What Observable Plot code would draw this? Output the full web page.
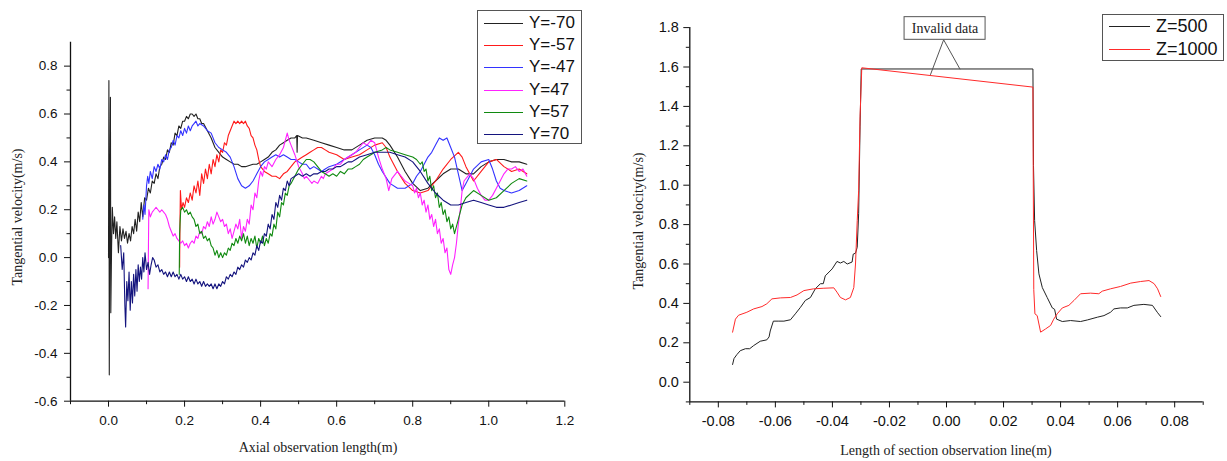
<!DOCTYPE html>
<html>
<head>
<meta charset="utf-8">
<script src="https://cdn.jsdelivr.net/npm/d3@7"></script>
<script src="https://cdn.jsdelivr.net/npm/@observablehq/plot@0.6"></script>
<style>
  html, body { margin: 0; padding: 0; background: #fff; }
  #wrap { position: relative; width: 1227px; height: 461px; overflow: hidden; background: #fff; }
  .panel { position: absolute; top: 0; }
  .title { position: absolute; font-family: "Liberation Serif", "Times New Roman", serif; font-size: 14px; color: #222; white-space: nowrap; }
  .legend { position: absolute; border: 1px solid #555; background: #fff; box-sizing: border-box; }
  .legend .row { position: absolute; left: 0; display: flex; align-items: center; font-family: "Liberation Sans", Arial, sans-serif; color: #111; white-space: nowrap; }
</style>
</head>
<body>
<div id="wrap"></div>
<script>
// ---------- LEFT PANEL DATA ----------
const leftSeriesNames = ["Y=-70", "Y=-57", "Y=-47", "Y=47", "Y=57", "Y=70"];
const leftSeriesColors = ["#222222", "#ff1a1a", "#3333ff", "#ff22ff", "#108a10", "#14147e"];
const leftXTicks = [0.0, 0.2, 0.4, 0.6, 0.8, 1.0, 1.2];
const leftXMinor = [-0.1, 0.1, 0.3, 0.5, 0.7, 0.9, 1.1];
const leftYTicks = [-0.6, -0.4, -0.2, 0.0, 0.2, 0.4, 0.6, 0.8];
const leftYMinor = [-0.5, -0.3, -0.1, 0.1, 0.3, 0.5, 0.7];

const yNeg70 = [[0.000,0.00],[0.001,0.74],[0.002,-0.49],[0.003,0.08],[0.005,0.67],[0.006,-0.23],[0.008,0.04],[0.010,0.21],[0.013,0.10],[0.016,0.17],[0.019,0.08],[0.022,0.15],[0.026,0.02],[0.030,0.13],[0.034,0.07],[0.038,0.12],[0.042,0.08],[0.046,0.11],[0.050,0.06],[0.054,0.10],[0.058,0.07],[0.062,0.13],[0.066,0.10],[0.070,0.16],[0.074,0.11],[0.078,0.19],[0.082,0.15],[0.086,0.23],[0.090,0.17],[0.095,0.25],[0.100,0.24],[0.105,0.29],[0.110,0.27],[0.115,0.32],[0.120,0.31],[0.125,0.35],[0.130,0.33],[0.135,0.38],[0.140,0.39],[0.145,0.42],[0.150,0.41],[0.155,0.45],[0.160,0.44],[0.165,0.48],[0.170,0.47],[0.175,0.52],[0.180,0.51],[0.185,0.55],[0.190,0.54],[0.195,0.57],[0.200,0.57],[0.205,0.59],[0.210,0.58],[0.215,0.60],[0.220,0.60],[0.225,0.59],[0.230,0.60],[0.235,0.58],[0.240,0.58],[0.245,0.56],[0.250,0.56],[0.260,0.53],[0.270,0.50],[0.280,0.46],[0.290,0.44],[0.300,0.42],[0.310,0.41],[0.320,0.40],[0.330,0.39],[0.340,0.39],[0.350,0.38],[0.360,0.38],[0.370,0.385],[0.380,0.39],[0.390,0.39],[0.400,0.40],[0.410,0.41],[0.420,0.42],[0.430,0.44],[0.440,0.45],[0.450,0.47],[0.460,0.48],[0.470,0.49],[0.480,0.50],[0.490,0.50],[0.495,0.51],[0.496,0.44],[0.497,0.51],[0.510,0.50],[0.520,0.50],[0.540,0.49],[0.560,0.48],[0.580,0.47],[0.600,0.46],[0.620,0.45],[0.640,0.45],[0.660,0.47],[0.680,0.49],[0.700,0.50],[0.720,0.50],[0.730,0.49],[0.740,0.47],[0.760,0.42],[0.780,0.36],[0.800,0.31],[0.820,0.28],[0.840,0.29],[0.860,0.32],[0.880,0.35],[0.900,0.37],[0.920,0.37],[0.940,0.35],[0.960,0.35],[0.980,0.38],[1.000,0.40],[1.020,0.41],[1.040,0.41],[1.060,0.40],[1.080,0.40],[1.100,0.39]];
const yNeg57 = [[0.187,-0.04],[0.188,0.15],[0.189,0.28],[0.192,0.20],[0.196,0.23],[0.200,0.21],[0.205,0.25],[0.210,0.23],[0.215,0.27],[0.220,0.24],[0.225,0.30],[0.230,0.27],[0.235,0.32],[0.240,0.26],[0.245,0.35],[0.250,0.31],[0.255,0.37],[0.260,0.33],[0.265,0.39],[0.270,0.35],[0.275,0.41],[0.280,0.38],[0.285,0.43],[0.290,0.40],[0.295,0.45],[0.300,0.44],[0.305,0.48],[0.310,0.47],[0.315,0.51],[0.320,0.53],[0.325,0.55],[0.330,0.57],[0.335,0.56],[0.340,0.57],[0.345,0.56],[0.350,0.57],[0.355,0.56],[0.360,0.57],[0.365,0.55],[0.370,0.54],[0.375,0.51],[0.380,0.50],[0.385,0.47],[0.390,0.45],[0.395,0.41],[0.400,0.38],[0.410,0.36],[0.420,0.35],[0.430,0.34],[0.440,0.34],[0.450,0.33],[0.460,0.35],[0.470,0.36],[0.480,0.38],[0.490,0.40],[0.500,0.41],[0.510,0.42],[0.520,0.43],[0.530,0.44],[0.540,0.45],[0.550,0.46],[0.560,0.46],[0.570,0.45],[0.580,0.44],[0.600,0.43],[0.620,0.41],[0.640,0.42],[0.660,0.43],[0.680,0.45],[0.700,0.47],[0.720,0.48],[0.730,0.46],[0.740,0.42],[0.760,0.36],[0.780,0.31],[0.800,0.28],[0.820,0.27],[0.840,0.28],[0.860,0.32],[0.880,0.37],[0.900,0.41],[0.920,0.44],[0.930,0.42],[0.940,0.38],[0.960,0.32],[0.980,0.36],[1.000,0.40],[1.020,0.41],[1.040,0.38],[1.060,0.36],[1.080,0.37],[1.100,0.35]];
const yNeg47 = [[0.090,0.16],[0.093,0.22],[0.096,0.18],[0.100,0.30],[0.103,0.34],[0.106,0.31],[0.110,0.36],[0.115,0.33],[0.120,0.38],[0.125,0.36],[0.130,0.39],[0.135,0.37],[0.140,0.41],[0.145,0.40],[0.150,0.43],[0.155,0.41],[0.160,0.45],[0.165,0.46],[0.170,0.49],[0.175,0.47],[0.180,0.51],[0.185,0.50],[0.190,0.53],[0.195,0.51],[0.200,0.54],[0.205,0.52],[0.210,0.55],[0.215,0.53],[0.220,0.55],[0.225,0.56],[0.230,0.57],[0.235,0.55],[0.240,0.56],[0.250,0.55],[0.260,0.53],[0.270,0.52],[0.280,0.48],[0.290,0.46],[0.300,0.45],[0.310,0.44],[0.320,0.42],[0.330,0.38],[0.340,0.33],[0.350,0.30],[0.360,0.29],[0.370,0.30],[0.380,0.32],[0.390,0.35],[0.400,0.38],[0.410,0.40],[0.420,0.41],[0.430,0.42],[0.440,0.43],[0.450,0.42],[0.460,0.43],[0.470,0.42],[0.480,0.41],[0.490,0.41],[0.500,0.40],[0.510,0.39],[0.520,0.39],[0.530,0.37],[0.540,0.38],[0.550,0.37],[0.560,0.36],[0.570,0.37],[0.580,0.38],[0.600,0.39],[0.620,0.41],[0.640,0.43],[0.660,0.45],[0.680,0.47],[0.690,0.46],[0.700,0.43],[0.710,0.39],[0.720,0.36],[0.740,0.31],[0.760,0.29],[0.780,0.29],[0.800,0.31],[0.810,0.34],[0.820,0.36],[0.830,0.39],[0.840,0.42],[0.850,0.44],[0.860,0.47],[0.870,0.50],[0.880,0.49],[0.890,0.50],[0.900,0.46],[0.910,0.42],[0.920,0.35],[0.930,0.28],[0.940,0.31],[0.950,0.34],[0.960,0.37],[0.980,0.40],[1.000,0.41],[1.010,0.37],[1.020,0.32],[1.030,0.29],[1.040,0.28],[1.060,0.27],[1.080,0.28],[1.100,0.30]];
const yPos47 = [[0.104,-0.13],[0.105,0.05],[0.106,0.20],[0.110,0.17],[0.115,0.19],[0.120,0.20],[0.125,0.21],[0.130,0.20],[0.135,0.19],[0.140,0.20],[0.145,0.19],[0.150,0.18],[0.155,0.16],[0.160,0.13],[0.165,0.11],[0.170,0.09],[0.175,0.10],[0.180,0.08],[0.185,0.07],[0.190,0.06],[0.195,0.07],[0.200,0.05],[0.205,0.06],[0.210,0.04],[0.215,0.06],[0.220,0.07],[0.225,0.06],[0.230,0.09],[0.235,0.08],[0.240,0.11],[0.245,0.10],[0.250,0.13],[0.255,0.12],[0.260,0.15],[0.265,0.13],[0.270,0.17],[0.275,0.14],[0.280,0.16],[0.285,0.19],[0.290,0.17],[0.295,0.15],[0.300,0.16],[0.305,0.13],[0.310,0.14],[0.315,0.10],[0.320,0.12],[0.325,0.08],[0.330,0.11],[0.335,0.14],[0.340,0.12],[0.345,0.16],[0.350,0.08],[0.355,0.13],[0.360,0.11],[0.365,0.16],[0.370,0.14],[0.375,0.22],[0.380,0.20],[0.385,0.27],[0.390,0.25],[0.395,0.32],[0.400,0.36],[0.405,0.34],[0.410,0.38],[0.415,0.37],[0.420,0.40],[0.430,0.38],[0.440,0.41],[0.450,0.43],[0.460,0.46],[0.470,0.52],[0.475,0.49],[0.480,0.47],[0.490,0.43],[0.500,0.38],[0.510,0.35],[0.515,0.33],[0.520,0.34],[0.530,0.32],[0.535,0.31],[0.540,0.32],[0.550,0.31],[0.560,0.34],[0.565,0.33],[0.570,0.35],[0.580,0.36],[0.590,0.37],[0.600,0.39],[0.610,0.39],[0.620,0.41],[0.630,0.42],[0.640,0.43],[0.650,0.44],[0.660,0.46],[0.670,0.48],[0.680,0.47],[0.690,0.49],[0.700,0.48],[0.710,0.42],[0.720,0.37],[0.730,0.33],[0.737,0.28],[0.745,0.33],[0.760,0.36],[0.770,0.34],[0.780,0.32],[0.790,0.31],[0.800,0.30],[0.805,0.27],[0.810,0.29],[0.815,0.25],[0.820,0.27],[0.825,0.22],[0.830,0.24],[0.835,0.19],[0.840,0.22],[0.845,0.16],[0.850,0.18],[0.855,0.13],[0.860,0.16],[0.865,0.10],[0.870,0.12],[0.875,0.06],[0.880,0.08],[0.885,0.02],[0.890,0.04],[0.895,-0.05],[0.900,-0.07],[0.905,-0.03],[0.910,0.00],[0.915,0.06],[0.920,0.14],[0.925,0.20],[0.930,0.28],[0.935,0.32],[0.950,0.35],[0.960,0.33],[0.970,0.29],[0.980,0.26],[0.990,0.24],[1.000,0.24],[1.010,0.26],[1.020,0.29],[1.030,0.32],[1.040,0.35],[1.050,0.37],[1.060,0.37],[1.070,0.38],[1.080,0.36],[1.090,0.37],[1.100,0.34]];
const yPos57 = [[0.186,-0.07],[0.187,0.10],[0.188,0.14],[0.190,0.20],[0.195,0.21],[0.200,0.19],[0.205,0.20],[0.210,0.18],[0.215,0.19],[0.220,0.17],[0.225,0.16],[0.230,0.13],[0.235,0.14],[0.240,0.10],[0.245,0.11],[0.250,0.08],[0.255,0.09],[0.260,0.07],[0.265,0.08],[0.270,0.05],[0.275,0.04],[0.280,0.01],[0.285,0.03],[0.290,0.00],[0.295,0.02],[0.300,0.00],[0.305,0.02],[0.310,0.01],[0.315,0.04],[0.320,0.03],[0.325,0.06],[0.330,0.05],[0.335,0.08],[0.340,0.06],[0.345,0.09],[0.350,0.07],[0.355,0.10],[0.360,0.06],[0.365,0.09],[0.370,0.05],[0.375,0.08],[0.380,0.06],[0.385,0.09],[0.390,0.04],[0.395,0.08],[0.400,0.06],[0.405,0.09],[0.410,0.05],[0.415,0.08],[0.420,0.06],[0.425,0.10],[0.430,0.09],[0.435,0.14],[0.440,0.12],[0.445,0.19],[0.450,0.17],[0.455,0.23],[0.460,0.22],[0.465,0.27],[0.470,0.26],[0.475,0.30],[0.480,0.31],[0.490,0.34],[0.500,0.37],[0.510,0.39],[0.520,0.41],[0.530,0.41],[0.540,0.40],[0.550,0.38],[0.560,0.36],[0.570,0.35],[0.580,0.34],[0.590,0.35],[0.600,0.34],[0.610,0.36],[0.620,0.35],[0.630,0.37],[0.640,0.37],[0.650,0.38],[0.660,0.39],[0.670,0.41],[0.680,0.42],[0.690,0.43],[0.700,0.44],[0.720,0.45],[0.730,0.46],[0.740,0.45],[0.760,0.44],[0.780,0.43],[0.800,0.42],[0.810,0.41],[0.820,0.39],[0.825,0.40],[0.830,0.36],[0.835,0.37],[0.840,0.32],[0.845,0.34],[0.850,0.28],[0.855,0.30],[0.860,0.25],[0.865,0.27],[0.870,0.21],[0.875,0.23],[0.880,0.18],[0.885,0.20],[0.890,0.15],[0.895,0.17],[0.900,0.12],[0.905,0.14],[0.910,0.10],[0.920,0.16],[0.930,0.22],[0.940,0.25],[0.960,0.28],[0.980,0.26],[1.000,0.24],[1.020,0.25],[1.040,0.28],[1.060,0.31],[1.080,0.33],[1.100,0.32]];
const yPos70 = [[0.032,0.05],[0.036,-0.05],[0.040,0.02],[0.043,-0.20],[0.045,-0.29],[0.048,-0.10],[0.051,-0.18],[0.054,-0.06],[0.057,-0.22],[0.060,-0.10],[0.063,-0.19],[0.066,-0.07],[0.069,-0.16],[0.072,-0.05],[0.075,-0.14],[0.078,-0.03],[0.081,-0.10],[0.084,-0.04],[0.087,-0.09],[0.090,0.00],[0.093,-0.06],[0.096,0.02],[0.100,-0.05],[0.104,-0.02],[0.108,-0.07],[0.112,-0.03],[0.116,0.00],[0.120,-0.01],[0.125,-0.04],[0.130,-0.03],[0.135,-0.06],[0.140,-0.05],[0.145,-0.07],[0.150,-0.06],[0.155,-0.08],[0.160,-0.06],[0.165,-0.08],[0.170,-0.06],[0.175,-0.08],[0.180,-0.07],[0.185,-0.09],[0.190,-0.07],[0.195,-0.09],[0.200,-0.08],[0.205,-0.10],[0.210,-0.08],[0.215,-0.10],[0.220,-0.09],[0.225,-0.11],[0.230,-0.09],[0.235,-0.11],[0.240,-0.10],[0.245,-0.12],[0.250,-0.10],[0.255,-0.12],[0.260,-0.11],[0.265,-0.12],[0.270,-0.11],[0.275,-0.13],[0.280,-0.11],[0.285,-0.13],[0.290,-0.11],[0.295,-0.12],[0.300,-0.10],[0.305,-0.11],[0.310,-0.08],[0.315,-0.09],[0.320,-0.07],[0.325,-0.08],[0.330,-0.06],[0.335,-0.07],[0.340,-0.04],[0.345,-0.05],[0.350,-0.03],[0.355,-0.04],[0.360,-0.01],[0.365,-0.02],[0.370,0.00],[0.375,-0.01],[0.380,0.02],[0.385,0.01],[0.390,0.05],[0.395,0.03],[0.400,0.07],[0.405,0.06],[0.410,0.10],[0.415,0.09],[0.420,0.14],[0.425,0.12],[0.430,0.18],[0.435,0.16],[0.440,0.23],[0.445,0.21],[0.450,0.26],[0.455,0.24],[0.460,0.29],[0.465,0.28],[0.470,0.32],[0.475,0.30],[0.480,0.33],[0.490,0.34],[0.500,0.35],[0.510,0.34],[0.520,0.35],[0.530,0.34],[0.540,0.35],[0.550,0.35],[0.560,0.36],[0.570,0.36],[0.580,0.37],[0.590,0.37],[0.600,0.38],[0.610,0.38],[0.620,0.39],[0.630,0.40],[0.640,0.40],[0.650,0.41],[0.660,0.42],[0.680,0.43],[0.700,0.44],[0.720,0.44],[0.740,0.44],[0.760,0.43],[0.780,0.42],[0.800,0.40],[0.820,0.36],[0.840,0.31],[0.860,0.27],[0.880,0.24],[0.900,0.22],[0.920,0.22],[0.940,0.23],[0.960,0.24],[0.980,0.23],[1.000,0.22],[1.020,0.21],[1.040,0.21],[1.060,0.22],[1.080,0.23],[1.100,0.24]];
const leftSeriesData = [yNeg70, yNeg57, yNeg47, yPos47, yPos57, yPos70];

// ---------- RIGHT PANEL DATA ----------
const rightSeriesNames = ["Z=500", "Z=1000"];
const rightSeriesColors = ["#222222", "#ff2a2a"];
const rightXTicks = [-0.08, -0.06, -0.04, -0.02, 0.00, 0.02, 0.04, 0.06, 0.08];
const rightXMinor = [-0.09, -0.07, -0.05, -0.03, -0.01, 0.01, 0.03, 0.05, 0.07, 0.09];
const rightYTicks = [0.0, 0.2, 0.4, 0.6, 0.8, 1.0, 1.2, 1.4, 1.6, 1.8];
const rightYMinor = [-0.1, 0.1, 0.3, 0.5, 0.7, 0.9, 1.1, 1.3, 1.5, 1.7];

const z500 = [[-0.0750,0.09],[-0.0745,0.12],[-0.0735,0.14],[-0.0723,0.16],[-0.0705,0.17],[-0.0690,0.17],[-0.0676,0.186],[-0.0653,0.208],[-0.0630,0.215],[-0.0622,0.23],[-0.0618,0.26],[-0.0607,0.31],[-0.0590,0.31],[-0.0570,0.31],[-0.0547,0.317],[-0.0530,0.347],[-0.0512,0.38],[-0.0495,0.415],[-0.0477,0.43],[-0.0460,0.474],[-0.0442,0.50],[-0.0432,0.50],[-0.0425,0.54],[-0.0401,0.575],[-0.0384,0.613],[-0.0372,0.605],[-0.0360,0.613],[-0.0348,0.600],[-0.0331,0.610],[-0.0327,0.650],[-0.0319,0.655],[-0.0313,0.685],[-0.0308,0.855],[-0.0303,1.30],[-0.0299,1.59],[0.0303,1.59],[0.0305,1.10],[0.0309,0.82],[0.0316,0.668],[0.0324,0.55],[0.0336,0.48],[0.0353,0.43],[0.0371,0.377],[0.0379,0.37],[0.0386,0.32],[0.0406,0.308],[0.0435,0.313],[0.0470,0.308],[0.0494,0.316],[0.0529,0.33],[0.0552,0.338],[0.0575,0.355],[0.0587,0.372],[0.0610,0.377],[0.0634,0.377],[0.0657,0.39],[0.0692,0.395],[0.0722,0.39],[0.0739,0.355],[0.0751,0.333]];
const z1000 = [[-0.0750,0.254],[-0.0740,0.32],[-0.0729,0.34],[-0.0700,0.355],[-0.0676,0.372],[-0.0647,0.384],[-0.0630,0.398],[-0.0612,0.423],[-0.0582,0.428],[-0.0547,0.43],[-0.0524,0.443],[-0.0500,0.465],[-0.0466,0.474],[-0.0430,0.477],[-0.0395,0.479],[-0.0384,0.457],[-0.0372,0.43],[-0.0354,0.418],[-0.0337,0.43],[-0.0325,0.48],[-0.0319,0.60],[-0.0313,0.82],[-0.0308,0.973],[-0.0303,1.35],[-0.0297,1.596],[0.0303,1.498],[0.0304,1.10],[0.0306,0.47],[0.0310,0.347],[0.0318,0.338],[0.0330,0.254],[0.0347,0.27],[0.0365,0.288],[0.0376,0.32],[0.0388,0.347],[0.0406,0.377],[0.0429,0.39],[0.0447,0.415],[0.0470,0.449],[0.0505,0.452],[0.0534,0.449],[0.0546,0.462],[0.0575,0.474],[0.0610,0.486],[0.0646,0.503],[0.0680,0.511],[0.0710,0.516],[0.0728,0.50],[0.0740,0.474],[0.0751,0.435]];
const rightSeriesData = [z500, z1000];

// annotation ("Invalid data") anchored in data coordinates
const annoLabel = "Invalid data";
const annoBox = [{x1: -0.0147, x2: 0.0137, y1: 1.738, y2: 1.853}];
const annoTextPos = [{x: -0.0005, y: 1.793}];
const annoCallout = [[-0.0056, 1.562], [-0.0010, 1.738], [0.0047, 1.590]];

// ---------- BUILD ----------
const wrap = document.getElementById("wrap");
const sansFont = "'Liberation Sans', Arial, sans-serif";
const serifFont = "'Liberation Serif', 'Times New Roman', serif";

function axisMarks(xT, xM, yT, yM, xFmt, yFmt, xMin, yMin, yPad, fs) {
  return [
    Plot.axisY({ticks: yT, tickSize: 6, tickPadding: yPad, tickFormat: yFmt, label: null, fontSize: fs, fontFamily: sansFont, fill: "#111", stroke: "#111"}),
    Plot.axisY({ticks: yM, tickSize: 3.5, tickFormat: () => "", label: null, stroke: "#111"}),
    Plot.axisX({ticks: xT, tickSize: 6, tickPadding: 8, tickFormat: xFmt, label: null, fontSize: fs, fontFamily: sansFont, fill: "#111", stroke: "#111"}),
    Plot.axisX({ticks: xM, tickSize: 3.5, tickFormat: () => "", label: null, stroke: "#111"}),
    Plot.ruleX([xMin], {stroke: "#111", strokeWidth: 1.3}),
    Plot.ruleY([yMin], {stroke: "#111", strokeWidth: 1.3})
  ];
}

const leftPlot = Plot.plot({
  width: 620, height: 461,
  marginLeft: 70, marginRight: 55.7, marginTop: 41.7, marginBottom: 60.3,
  x: {domain: [-0.1, 1.2]},
  y: {domain: [-0.6, 0.9]},
  style: {background: "transparent", overflow: "visible", fontFamily: sansFont, fontSize: "13px", color: "#111"},
  marks: [
    ...axisMarks(leftXTicks, leftXMinor, leftYTicks, leftYMinor, d => d.toFixed(1), d => d.toFixed(1), -0.1, -0.6, 7, 13.5),
    ...leftSeriesData.map((s, i) => Plot.line(s, {x: d => d[0], y: d => d[1], stroke: leftSeriesColors[i], strokeWidth: 1.1}))
  ]
});

const rightPlot = Plot.plot({
  width: 607, height: 461,
  marginLeft: 69.3, marginRight: 24.3, marginTop: 27.1, marginBottom: 59.6,
  x: {domain: [-0.09, 0.09]},
  y: {domain: [-0.1, 1.8]},
  style: {background: "transparent", overflow: "visible", fontFamily: sansFont, fontSize: "13px", color: "#111"},
  marks: [
    ...axisMarks(rightXTicks, rightXMinor, rightYTicks, rightYMinor, d => d.toFixed(2), d => d.toFixed(1), -0.09, -0.1, 5, 14.5),
    ...rightSeriesData.map((s, i) => Plot.line(s, {x: d => d[0], y: d => d[1], stroke: rightSeriesColors[i], strokeWidth: 1})),
    Plot.line(annoCallout, {x: d => d[0], y: d => d[1], stroke: "#555", strokeWidth: 1}),
    Plot.rect(annoBox, {x1: "x1", x2: "x2", y1: "y1", y2: "y2", fill: "white", stroke: "#555", strokeWidth: 1}),
    Plot.text(annoTextPos, {x: "x", y: "y", text: () => annoLabel, fontFamily: serifFont, fontSize: 14, fill: "#222"})
  ]
});

const lp = document.createElement("div"); lp.className = "panel"; lp.style.left = "0px"; lp.appendChild(leftPlot); wrap.appendChild(lp);
const rp = document.createElement("div"); rp.className = "panel"; rp.style.left = "620px"; rp.appendChild(rightPlot); wrap.appendChild(rp);

// axis titles
function addTitle(text, cx, cy, rotate) {
  const d = document.createElement("div");
  d.className = "title";
  d.textContent = text;
  d.style.left = cx + "px";
  d.style.top = cy + "px";
  d.style.transform = "translate(-50%, -50%)" + (rotate ? " rotate(-90deg)" : "");
  wrap.appendChild(d);
}
addTitle("Axial observation length(m)", 318, 448, false);
addTitle("Tangential velocity(m/s)", 18, 217, true);
addTitle("Length of section observation line(m)", 946, 451, false);
addTitle("Tangential velocity(m/s)", 639, 221, true);

// legends
function addLegend(names, colors, box, rowY, lineX1, lineLen, textGap, fontSize) {
  const lg = document.createElement("div");
  lg.className = "legend";
  lg.style.left = box.left + "px"; lg.style.top = box.top + "px";
  lg.style.width = box.width + "px"; lg.style.height = box.height + "px";
  names.forEach((n, i) => {
    const row = document.createElement("div");
    row.className = "row";
    row.style.top = (rowY[i] - box.top - 12) + "px";
    row.style.height = "24px";
    row.style.left = (lineX1 - box.left - 1) + "px";
    row.style.fontSize = fontSize + "px";
    row.innerHTML = `<svg width="${lineLen}" height="24" style="display:block"><line x1="0" x2="${lineLen}" y1="12.5" y2="12.5" stroke="${colors[i]}" stroke-width="1.2"/></svg><span style="margin-left:${textGap}px">${n}</span>`;
    lg.appendChild(row);
  });
  wrap.appendChild(lg);
}
addLegend(leftSeriesNames, leftSeriesColors, {left: 477, top: 10, width: 105, height: 134},
  [22.7, 45, 67.3, 89.6, 111.9, 134.2].map(v => v - 1), 484, 39, 6, 17);
addLegend(rightSeriesNames, rightSeriesColors, {left: 1102, top: 13.5, width: 122, height: 47},
  [26, 49.3].map(v => v - 1), 1109, 41, 6, 18);
</script>
</body>
</html>
